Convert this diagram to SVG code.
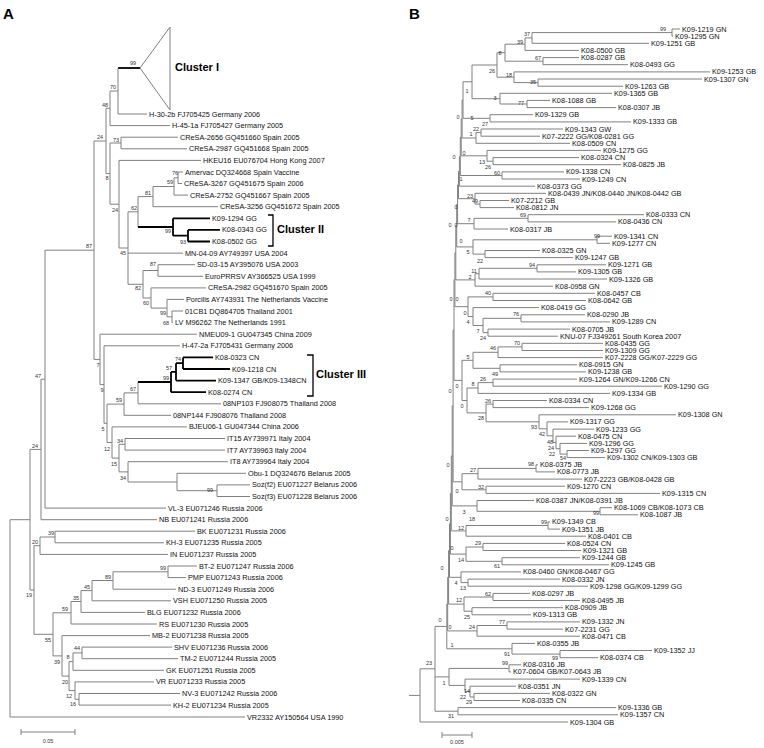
<svg xmlns="http://www.w3.org/2000/svg" width="764" height="748" viewBox="0 0 764 748">
<style>
.br{stroke:#808080;stroke-width:1;fill:none}
.tk{stroke:#000;stroke-width:1.8;fill:none}
.t{font-family:"Liberation Sans",Arial,sans-serif;font-size:7.3px;fill:#111}
.bs{font-family:"Liberation Sans",Arial,sans-serif;font-size:5.5px;fill:#333;text-anchor:middle}
.cl{font-family:"Liberation Sans",Arial,sans-serif;font-size:11px;font-weight:bold;fill:#000}
.ttl{font-family:"Liberation Sans",Arial,sans-serif;font-size:15px;font-weight:bold;fill:#000}
.sc{font-family:"Liberation Sans",Arial,sans-serif;font-size:5.5px;fill:#333;text-anchor:middle}
</style>
<rect width="764" height="748" fill="#fff"/>
<text class="ttl" x="3" y="19">A</text>
<text class="ttl" x="409" y="19">B</text>

<g id="connectors-A">
<path class="br" d="M140,68 L170,27 V110 Z" stroke="#555"/>
<path class="tk" d="M118,68 H140"/>
<path class="br" d="M118,68 V114 M118,114 H147
M110,91 V125.6 M110,91 H118 M110,125.6 H170
M121,137.2 V148.8 M121,137.2 H178 M121,148.8 H187
M106,108.3 V173.6 M106,108.3 H110 M106,173.6 H110
M110,143 V204.2 M110,143 H121 M110,204.2 H119
M119,160.4 V248 M119,160.4 H201 M119,248 H128
M128,211.8 V284.3 M128,211.8 H138 M128,253.1 H183 M128,284.3 H143
M138,196.6 V227 M138,196.6 H153
M153,186.5 V206.7 M153,186.5 H174 M153,206.7 H218
M174,177.8 V195.1 M174,177.8 H178 M174,195.1 H188
M178,172 V183.5 M178,172 H183 M178,183.5 H182
M143,270.5 V298 M143,270.5 H158 M143,298 H151
M158,264.7 V276.3 M158,264.7 H195 M158,276.3 H203
M151,287.9 V308.1 M151,287.9 H206 M151,308.1 H167
M167,299.4 V316.8 M167,299.4 H184 M167,316.8 H172
M172,311 V322.6 M172,311 H183 M172,322.6 H173
M94,141 V359.4 M94,141 H106 M94,359.4 H100
M100,334.2 V384.6 M100,334.2 H197 M100,384.6 H104
M104,345.8 V423.3 M104,345.8 H180 M104,423.3 H107
M107,404.1 V442.5 M107,404.1 H124 M107,442.5 H112
M124,392.9 V415.3 M124,392.9 H138 M124,415.3 H171
M138,382 V403.8 M138,403.8 H221
M112,426.9 V458.1 M112,426.9 H187 M112,458.1 H119
M119,444.3 V471.9 M119,444.3 H125 M119,471.9 H128
M125,438.5 V450.1 M125,438.5 H225 M125,450.1 H225
M128,461.7 V482 M128,461.7 H228 M128,482 H177
M177,473.3 V490.7 M177,473.3 H246 M177,490.7 H217
M217,484.9 V496.5 M217,484.9 H250 M217,496.5 H250
M45,250.2 V508.1 M45,250.2 H94 M45,508.1 H166
M41,379.2 V519.7 M41,379.2 H45 M41,519.7 H157
M30,449.4 V590 M30,449.4 H41 M30,590 H34
M34,545.7 V634.3 M34,545.7 H40 M34,634.3 H53
M40,537 V554.4 M40,537 H55 M40,554.4 H168
M55,531.2 V542.8 M55,531.2 H195 M55,542.8 H164
M53,612.8 V655.9 M53,612.8 H71 M53,655.9 H62
M71,601.5 V624 M71,601.5 H81 M71,624 H157
M81,590.6 V612.4 M81,590.6 H92 M81,612.4 H145
M92,580.5 V600.8 M92,580.5 H113 M92,600.8 H171
M113,571.8 V589.2 M113,571.8 H168 M113,589.2 H176
M168,566 V577.6 M168,566 H197 M168,577.6 H186
M62,635.6 V676.1 M62,635.6 H150 M62,676.1 H69
M69,661.6 V690.6 M69,661.6 H73 M69,690.6 H75
M73,652.9 V670.3 M73,652.9 H82 M73,670.3 H164
M82,647.1 V658.7 M82,647.1 H172 M82,658.7 H178
M75,681.9 V699.3 M75,681.9 H154 M75,699.3 H79
M79,693.5 V705.1 M79,693.5 H180 M79,705.1 H171
M10,519.7 V717 M10,519.7 H30 M10,717 H245"/>
<path class="tk" d="M138,227 H173 M173,218.3 V235.7 M173,218.3 H210 M173,235.7 H188 M188,229.9 V241.5 M188,229.9 H220 M188,241.5 H210"/>
<path class="tk" d="M138,382 H171 M171,371.9 V392.2 M171,371.9 H176 M171,392.2 H206 M176,363.2 V380.6 M176,363.2 H183 M176,380.6 H216 M183,357.4 V369 M183,357.4 H213 M183,369 H230"/>
<path d="M268,215 H273 V246 H268 M307,355 H313 V396 H307" stroke="#000" stroke-width="1.3" fill="none"/>
<path class="br" d="M21,732 H75 M21,729 V735 M75,729 V735" stroke="#333"/>
</g>

<g id="bootstrap-A">
<text class="bs" x="133" y="65">99</text><text class="bs" x="113" y="89">70</text><text class="bs" x="105" y="107">48</text>
<text class="bs" x="100" y="139">24</text><text class="bs" x="116" y="142">73</text><text class="bs" x="107" y="180">8</text>
<text class="bs" x="175" y="175">76</text><text class="bs" x="170" y="184">59</text><text class="bs" x="148" y="195">81</text>
<text class="bs" x="134" y="210">62</text><text class="bs" x="115" y="212">24</text><text class="bs" x="168" y="233">99</text>
<text class="bs" x="183" y="244">93</text><text class="bs" x="123" y="255">45</text><text class="bs" x="153" y="266">87</text>
<text class="bs" x="138" y="290">82</text><text class="bs" x="146" y="305">60</text><text class="bs" x="163" y="315">99</text>
<text class="bs" x="166" y="325">68</text><text class="bs" x="89" y="248">87</text><text class="bs" x="98" y="367">7</text>
<text class="bs" x="102" y="392">9</text><text class="bs" x="178" y="361">74</text><text class="bs" x="169" y="370">57</text>
<text class="bs" x="166" y="380">99</text><text class="bs" x="133" y="391">67</text><text class="bs" x="119" y="402">59</text>
<text class="bs" x="103" y="431">5</text><text class="bs" x="107" y="451">12</text><text class="bs" x="120" y="443">34</text>
<text class="bs" x="114" y="466">15</text><text class="bs" x="123" y="480">34</text><text class="bs" x="210" y="492">99</text>
<text class="bs" x="38" y="378">47</text><text class="bs" x="35" y="448">24</text><text class="bs" x="51" y="535">39</text>
<text class="bs" x="35" y="544">20</text><text class="bs" x="29" y="597">19</text><text class="bs" x="163" y="570">99</text>
<text class="bs" x="108" y="579">89</text><text class="bs" x="87" y="589">45</text><text class="bs" x="76" y="600">35</text>
<text class="bs" x="65" y="611">59</text><text class="bs" x="48" y="642">55</text><text class="bs" x="77" y="650">44</text>
<text class="bs" x="57" y="664">39</text><text class="bs" x="68" y="659">8</text><text class="bs" x="65" y="684">20</text>
<text class="bs" x="69" y="698">12</text><text class="bs" x="73" y="706">16</text>
<text class="sc" x="48" y="743">0.05</text>
</g>

<g id="clusters">
<text class="cl" x="175" y="71">Cluster I</text>
<text class="cl" x="277" y="233">Cluster II</text>
<text class="cl" x="316" y="378">Cluster III</text>
</g>

<g id="leaves-A" class="t">
<g id="a02"><text x="149" y="116.5">H-30-2b FJ705425 Germany 2006</text></g>
<g id="a03"><text x="172" y="128.1">H-45-1a FJ705427 Germany 2005</text></g>
<g id="a04"><text x="180" y="139.7">CReSA-2656 GQ451660 Spain 2005</text></g>
<g id="a05"><text x="189" y="151.3">CReSA-2987 GQ451668 Spain 2005</text></g>
<g id="a06"><text x="203" y="162.9">HKEU16 EU076704 Hong Kong 2007</text></g>
<g id="a07"><text x="185" y="174.5">Amervac DQ324668 Spain Vaccine</text></g>
<g id="a08"><text x="184" y="186">CReSA-3267 GQ451675 Spain 2006</text></g>
<g id="a09"><text x="190" y="197.6">CReSA-2752 GQ451667 Spain 2005</text></g>
<g id="a10"><text x="220" y="209.2">CReSA-3256 GQ451672 Spain 2005</text></g>
<g id="a11"><text x="212" y="220.8">K09-1294 GG</text></g>
<g id="a12"><text x="222" y="232.4">K08-0343 GG</text></g>
<g id="a13"><text x="212" y="244">K08-0502 GG</text></g>
<g id="a14"><text x="185" y="255.6">MN-04-09 AY749397 USA 2004</text></g>
<g id="a15"><text x="197" y="267.2">SD-03-15 AY395076 USA 2003</text></g>
<g id="a16"><text x="205" y="278.8">EuroPRRSV AY366525 USA 1999</text></g>
<g id="a17"><text x="208" y="290.4">CReSA-2982 GQ451670 Spain 2005</text></g>
<g id="a18"><text x="186" y="301.9">Porcilis AY743931 The Netherlands Vaccine</text></g>
<g id="a19"><text x="185" y="313.5">01CB1 DQ864705 Thailand 2001</text></g>
<g id="a20"><text x="175" y="325.1">LV M96262 The Netherlands 1991</text></g>
<g id="a21"><text x="199" y="336.7">NMEU09-1 GU047345 China 2009</text></g>
<g id="a22"><text x="182" y="348.3">H-47-2a FJ705431 Germany 2006</text></g>
<g id="a23"><text x="215" y="359.9">K08-0323 CN</text></g>
<g id="a24"><text x="232" y="371.5">K09-1218 CN</text></g>
<g id="a25"><text x="218" y="383.1">K09-1347 GB/K09-1348CN</text></g>
<g id="a26"><text x="208" y="394.7">K08-0274 CN</text></g>
<g id="a27"><text x="223" y="406.3">08NP103 FJ908075 Thailand 2008</text></g>
<g id="a28"><text x="173" y="417.8">08NP144 FJ908076 Thailand 2008</text></g>
<g id="a29"><text x="189" y="429.4">BJEU06-1 GU047344 China 2006</text></g>
<g id="a30"><text x="227" y="441">IT15 AY739971 Italy 2004</text></g>
<g id="a31"><text x="227" y="452.6">IT7 AY739963 Italy 2004</text></g>
<g id="a32"><text x="230" y="464.2">IT8 AY739964 Italy 2004</text></g>
<g id="a33"><text x="248" y="475.8">Obu-1 DQ324676 Belarus 2005</text></g>
<g id="a34"><text x="252" y="487.4">Soz(f2) EU071227 Belarus 2006</text></g>
<g id="a35"><text x="252" y="499">Soz(f3) EU071228 Belarus 2006</text></g>
<g id="a36"><text x="168" y="510.6">VL-3 EU071246 Russia 2006</text></g>
<g id="a37"><text x="159" y="522.2">NB EU071241 Russia 2006</text></g>
<g id="a38"><text x="197" y="533.7">BK EU071231 Russia 2006</text></g>
<g id="a39"><text x="166" y="545.3">KH-3 EU071235 Russia 2005</text></g>
<g id="a40"><text x="170" y="556.9">IN EU071237 Russia 2005</text></g>
<g id="a41"><text x="199" y="568.5">BT-2 EU071247 Russia 2006</text></g>
<g id="a42"><text x="188" y="580.1">PMP EU071243 Russia 2006</text></g>
<g id="a43"><text x="178" y="591.7">ND-3 EU071249 Russia 2006</text></g>
<g id="a44"><text x="173" y="603.3">VSH EU071250 Russia 2005</text></g>
<g id="a45"><text x="147" y="614.9">BLG EU071232 Russia 2006</text></g>
<g id="a46"><text x="159" y="626.5">RS EU071230 Russia 2005</text></g>
<g id="a47"><text x="152" y="638.1">MB-2 EU071238 Russia 2005</text></g>
<g id="a48"><text x="174" y="649.6">SHV EU071236 Russia 2006</text></g>
<g id="a49"><text x="180" y="661.2">TM-2 EU071244 Russia 2005</text></g>
<g id="a50"><text x="166" y="672.8">GK EU071251 Russia 2005</text></g>
<g id="a51"><text x="156" y="684.4">VR EU071233 Russia 2005</text></g>
<g id="a52"><text x="182" y="696">NV-3 EU071242 Russia 2006</text></g>
<g id="a53"><text x="173" y="707.6">KH-2 EU071234 Russia 2005</text></g>
<g id="a54"><text x="247" y="719.5">VR2332 AY150564 USA 1990</text></g>
</g>

<g id="connectors-B">
<path class="br" d="M672,29 V36.1 M672,29 H680 M672,36.1 H673
M532,32.6 V43.3 M532,32.6 H672 M532,43.3 H649
M525,37.9 V50.4 M525,37.9 H532 M525,50.4 H579
M543,57.6 V64.7 M543,57.6 H579 M543,64.7 H628
M505,44.2 V61.2 M505,44.2 H525 M505,61.2 H543
M538,79 V86.2 M538,79 H702 M538,86.2 H623
M514,71.9 V82.6 M514,71.9 H710 M514,82.6 H538
M497,52.7 V77.2 M497,52.7 H505 M497,77.2 H514
M527,100.4 V107.6 M527,100.4 H550 M527,107.6 H616
M500,93.3 V104 M500,93.3 H612 M500,104 H527
M472,65 V98.7 M472,65 H497 M472,98.7 H500
M490,114.7 V121.9 M490,114.7 H533 M490,121.9 H631
M481,129 V136.2 M481,129 H563 M481,136.2 H540
M476,132.6 V143.3 M476,132.6 H481 M476,143.3 H570
M493,157.6 V164.7 M493,157.6 H579 M493,164.7 H621
M487,150.4 V161.2 M487,150.4 H601 M487,161.2 H493
M502,171.9 V179 M502,171.9 H564 M502,179 H580
M480,200.5 V207.6 M480,200.5 H509 M480,207.6 H514
M475,193.3 V204.1 M475,193.3 H546 M475,204.1 H480
M528,214.7 V221.9 M528,214.7 H644 M528,221.9 H616
M474,218.3 V229 M474,218.3 H528 M474,229 H508
M597,236.2 V243.3 M597,236.2 H612 M597,243.3 H610
M485,250.5 V257.6 M485,250.5 H540 M485,257.6 H573
M473,239.8 V254.1 M473,239.8 H597 M473,254.1 H485
M537,264.8 V271.9 M537,264.8 H606 M537,271.9 H576
M479,268.3 V279 M479,268.3 H537 M479,279 H607
M475,273.7 V286.2 M475,273.7 H479 M475,286.2 H553
M493,293.3 V300.5 M493,293.3 H595 M493,300.5 H586
M521,314.8 V321.9 M521,314.8 H585 M521,321.9 H610
M488,329.1 V336.2 M488,329.1 H570 M488,336.2 H558
M483,318.3 V332.6 M483,318.3 H521 M483,332.6 H488
M473,307.6 V325.5 M473,307.6 H539 M473,325.5 H483
M468,296.9 V316.5 M468,296.9 H493 M468,316.5 H473
M522,343.3 V350.5 M522,343.3 H603 M522,350.5 H603
M498,346.9 V357.6 M498,346.9 H522 M498,357.6 H603
M500,364.8 V371.9 M500,364.8 H577 M500,371.9 H586
M473,352.3 V368.3 M473,352.3 H498 M473,368.3 H500
M493,379.1 V386.2 M493,379.1 H577 M493,386.2 H662
M478,382.6 V393.4 M478,382.6 H493 M478,393.4 H610
M493,400.5 V407.6 M493,400.5 H547 M493,407.6 H589
M539,414.8 V428.8 M539,414.8 H676 M539,428.8 H547
M547,421.9 V435.8 M547,421.9 H568 M547,435.8 H553
M553,429.1 V442.5 M553,429.1 H594 M553,442.5 H556
M556,436.2 V448.7 M556,436.2 H576 M556,448.7 H560
M560,443.4 V454.1 M560,443.4 H587 M560,454.1 H567
M567,450.5 V457.6 M567,450.5 H589 M567,457.6 H605
M486,404.1 V421.8 M486,404.1 H493 M486,421.8 H539
M467,388 V412.9 M467,388 H478 M467,412.9 H486
M462,360.3 V400.5 M462,360.3 H473 M462,400.5 H467
M536,464.8 V471.9 M536,464.8 H538 M536,471.9 H555
M478,468.4 V479.1 M478,468.4 H536 M478,479.1 H582
M486,486.2 V493.4 M486,486.2 H565 M486,493.4 H660
M462,473.7 V489.8 M462,473.7 H478 M462,489.8 H486
M600,507.7 V514.8 M600,507.7 H612 M600,514.8 H638
M477,500.5 V511.3 M477,500.5 H534 M477,511.3 H600
M548,521.9 V529.1 M548,521.9 H550 M548,529.1 H560
M466,525.5 V536.2 M466,525.5 H548 M466,536.2 H586
M483,543.4 V550.5 M483,543.4 H565 M483,550.5 H581
M502,557.7 V564.8 M502,557.7 H580 M502,564.8 H609
M466,547 V561.3 M466,547 H483 M466,561.3 H502
M468,579.1 V586.2 M468,579.1 H560 M468,586.2 H588
M461,571.9 V582.6 M461,571.9 H521 M461,582.6 H468
M493,593.4 V600.5 M493,593.4 H530 M493,600.5 H580
M472,607.7 V614.8 M472,607.7 H563 M472,614.8 H531
M464,597 V611.2 M464,597 H493 M464,611.2 H472
M507,621.9 V629.1 M507,621.9 H580 M507,629.1 H563
M477,625.5 V636.2 M477,625.5 H507 M477,636.2 H580
M560,650.5 V657.7 M560,650.5 H652 M560,657.7 H598
M512,643.4 V654.1 M512,643.4 H535 M512,654.1 H560
M509,664.8 V671.9 M509,664.8 H521 M509,671.9 H511
M474,693.4 V700.5 M474,693.4 H550 M474,700.5 H520
M470,686.2 V697 M470,686.2 H516 M470,697 H474
M465,679.1 V691.6 M465,679.1 H580 M465,691.6 H470
M449,668.4 V685.4 M449,668.4 H509 M449,685.4 H465
M458,707.6 V714.8 M458,707.6 H616 M458,714.8 H618
M463,81.8 V118.3 M463,81.8 H472 M463,118.3 H490
M462.1,100.05 V138 M462.1,100.05 H463 M462.1,138 H476
M461.2,119 V155.8 M461.2,119 H462.1 M461.2,155.8 H487
M460.3,137.4 V175.5 M460.3,137.4 H461.2 M460.3,175.5 H502
M459.4,156.5 V186.2 M459.4,156.5 H460.3 M459.4,186.2 H535
M458.5,171.3 V198.7 M458.5,171.3 H459.4 M458.5,198.7 H475
M457.6,185 V223.7 M457.6,185 H458.5 M457.6,223.7 H474
M456.7,204.4 V246.9 M456.7,204.4 H457.6 M456.7,246.9 H473
M455.8,225.6 V279.9 M455.8,225.6 H456.7 M455.8,279.9 H475
M454.9,252.8 V306.7 M454.9,252.8 H455.8 M454.9,306.7 H468
M454,279.7 V380.4 M454,279.7 H454.9 M454,380.4 H462
M453.1,330.1 V481.8 M453.1,330.1 H454 M453.1,481.8 H462
M452.2,405.9 V505.9 M452.2,405.9 H453.1 M452.2,505.9 H477
M451.3,455.9 V530.9 M451.3,455.9 H452.2 M451.3,530.9 H466
M450.4,493.4 V554.1 M450.4,493.4 H451.3 M450.4,554.1 H466
M449.5,523.8 V577.3 M449.5,523.8 H450.4 M449.5,577.3 H461
M448.6,550.5 V604.1 M448.6,550.5 H449.5 M448.6,604.1 H464
M447.7,577.3 V630.9 M447.7,577.3 H448.6 M447.7,630.9 H477
M446.8,604.1 V648.8 M446.8,604.1 H447.7 M446.8,648.8 H512
M435,626.4 V711.2 M435,626.4 H446.8 M435,676.9 H449 M435,711.2 H458
M420,668.8 V722 M420,668.8 H435 M420,722 H568 M409,695.4 H420"/>
<path class="br" d="M442,735 H472 M442,732 V738 M472,732 V738" stroke="#333"/>
</g>

<g id="bootstrap-B">
<text class="bs" x="663" y="31">99</text><text class="bs" x="527" y="36">37</text><text class="bs" x="520" y="44">39</text>
<text class="bs" x="500" y="55">8</text><text class="bs" x="538" y="60">67</text><text class="bs" x="492" y="73">26</text>
<text class="bs" x="509" y="77">18</text><text class="bs" x="533" y="84">35</text><text class="bs" x="467" y="93">1</text>
<text class="bs" x="495" y="100">3</text><text class="bs" x="521" y="105">77</text><text class="bs" x="458" y="119">0</text>
<text class="bs" x="472" y="120">5</text><text class="bs" x="485" y="126">27</text><text class="bs" x="476" y="131">22</text>
<text class="bs" x="471" y="136">1</text><text class="bs" x="464" y="155">0</text><text class="bs" x="454" y="159">0</text>
<text class="bs" x="482" y="164">13</text><text class="bs" x="488" y="169">26</text><text class="bs" x="497" y="175">60</text>
<text class="bs" x="461" y="181">1</text><text class="bs" x="470" y="198">23</text><text class="bs" x="475" y="203">49</text>
<text class="bs" x="456" y="209">0</text><text class="bs" x="523" y="217">69</text><text class="bs" x="469" y="222">7</text>
<text class="bs" x="450" y="227">0</text><text class="bs" x="456" y="227">0</text><text class="bs" x="461" y="243">0</text>
<text class="bs" x="597" y="238">99</text><text class="bs" x="468" y="254">5</text><text class="bs" x="480" y="263">22</text>
<text class="bs" x="532" y="267">94</text><text class="bs" x="474" y="273">11</text><text class="bs" x="470" y="279">2</text>
<text class="bs" x="451" y="301">0</text><text class="bs" x="457" y="301">0</text><text class="bs" x="488" y="295">40</text>
<text class="bs" x="465" y="315">0</text><text class="bs" x="516" y="316">76</text><text class="bs" x="468" y="324">4</text>
<text class="bs" x="478" y="333">7</text><text class="bs" x="483" y="340">24</text><text class="bs" x="517" y="345">70</text>
<text class="bs" x="493" y="350">46</text><text class="bs" x="468" y="359">5</text><text class="bs" x="495" y="376">49</text>
<text class="bs" x="483" y="381">26</text><text class="bs" x="473" y="386">8</text><text class="bs" x="457" y="388">0</text>
<text class="bs" x="450" y="393">0</text><text class="bs" x="488" y="403">26</text><text class="bs" x="462" y="408">0</text>
<text class="bs" x="481" y="420">28</text><text class="bs" x="534" y="429">93</text><text class="bs" x="542" y="436">42</text>
<text class="bs" x="550" y="443.5">48</text><text class="bs" x="551" y="449.5">24</text><text class="bs" x="552" y="455.5">22</text>
<text class="bs" x="563" y="460">54</text><text class="bs" x="531" y="466">98</text><text class="bs" x="448" y="467">0</text>
<text class="bs" x="473" y="472">27</text><text class="bs" x="481" y="489">32</text><text class="bs" x="457" y="493">0</text>
<text class="bs" x="464" y="514">3</text><text class="bs" x="472" y="521">18</text><text class="bs" x="544" y="524">99</text>
<text class="bs" x="447" y="521">0</text><text class="bs" x="461" y="530">12</text><text class="bs" x="596" y="514.5">99</text>
<text class="bs" x="452" y="550">0</text><text class="bs" x="478" y="545">29</text><text class="bs" x="461" y="562">14</text>
<text class="bs" x="497" y="568">61</text><text class="bs" x="442" y="570">0</text><text class="bs" x="456" y="585">4</text>
<text class="bs" x="463" y="590">13</text><text class="bs" x="488" y="596">62</text><text class="bs" x="459" y="602">12</text>
<text class="bs" x="467" y="619">25</text><text class="bs" x="440" y="622">0</text><text class="bs" x="450" y="629">0</text>
<text class="bs" x="472" y="629">24</text><text class="bs" x="502" y="624">77</text><text class="bs" x="452" y="647">1</text>
<text class="bs" x="507" y="656">91</text><text class="bs" x="555" y="659.5">99</text><text class="bs" x="505" y="665">99</text>
<text class="bs" x="429" y="665">23</text><text class="bs" x="444" y="685">1</text><text class="bs" x="467" y="693">14</text>
<text class="bs" x="463" y="699">22</text><text class="bs" x="469" y="704">29</text><text class="bs" x="451" y="718">31</text>
<text class="sc" x="457" y="744">0.005</text>
</g>

<g id="leaves-B" class="t">
<g id="b01"><text x="682" y="31.5">K09-1219 GN</text></g>
<g id="b02"><text x="675" y="38.6">K09-1295 GN</text></g>
<g id="b03"><text x="651" y="45.8">K09-1251 GB</text></g>
<g id="b04"><text x="581" y="52.9">K08-0500 GB</text></g>
<g id="b05"><text x="581" y="60.1">K08-0287 GB</text></g>
<g id="b06"><text x="630" y="67.2">K08-0493 GG</text></g>
<g id="b07"><text x="712" y="74.4">K09-1253 GB</text></g>
<g id="b08"><text x="704" y="81.5">K09-1307 GN</text></g>
<g id="b09"><text x="625" y="88.7">K09-1263 GB</text></g>
<g id="b10"><text x="614" y="95.8">K09-1365 GB</text></g>
<g id="b11"><text x="552" y="102.9">K08-1088 GB</text></g>
<g id="b12"><text x="618" y="110.1">K08-0307 JB</text></g>
<g id="b13"><text x="535" y="117.2">K09-1329 GB</text></g>
<g id="b14"><text x="633" y="124.4">K09-1333 GB</text></g>
<g id="b15"><text x="565" y="131.5">K09-1343 GW</text></g>
<g id="b16"><text x="542" y="138.7">K07-2222 GG/K08-0281 GG</text></g>
<g id="b17"><text x="572" y="145.8">K08-0509 CN</text></g>
<g id="b18"><text x="603" y="152.9">K09-1275 GG</text></g>
<g id="b19"><text x="581" y="160.1">K08-0324 CN</text></g>
<g id="b20"><text x="623" y="167.2">K08-0825 JB</text></g>
<g id="b21"><text x="566" y="174.4">K09-1338 CN</text></g>
<g id="b22"><text x="582" y="181.5">K09-1249 CN</text></g>
<g id="b23"><text x="537" y="188.7">K08-0373 GG</text></g>
<g id="b24"><text x="548" y="195.8">K08-0439 JN/K08-0440 JN/K08-0442 GB</text></g>
<g id="b25"><text x="511" y="203">K07-2212 GB</text></g>
<g id="b26"><text x="516" y="210.1">K08-0812 JN</text></g>
<g id="b27"><text x="646" y="217.2">K08-0333 CN</text></g>
<g id="b28"><text x="618" y="224.4">K08-0436 CN</text></g>
<g id="b29"><text x="510" y="231.5">K08-0317 JB</text></g>
<g id="b30"><text x="614" y="238.7">K09-1341 CN</text></g>
<g id="b31"><text x="612" y="245.8">K09-1277 CN</text></g>
<g id="b32"><text x="542" y="253">K08-0325 GN</text></g>
<g id="b33"><text x="575" y="260.1">K09-1247 GB</text></g>
<g id="b34"><text x="608" y="267.3">K09-1271 GB</text></g>
<g id="b35"><text x="578" y="274.4">K09-1305 GB</text></g>
<g id="b36"><text x="609" y="281.5">K09-1326 GB</text></g>
<g id="b37"><text x="555" y="288.7">K08-0958 GN</text></g>
<g id="b38"><text x="597" y="295.8">K08-0457 CB</text></g>
<g id="b39"><text x="588" y="303">K08-0642 GB</text></g>
<g id="b40"><text x="541" y="310.1">K08-0419 GG</text></g>
<g id="b41"><text x="587" y="317.3">K08-0290 JB</text></g>
<g id="b42"><text x="612" y="324.4">K09-1289 CN</text></g>
<g id="b43"><text x="572" y="331.6">K08-0705 JB</text></g>
<g id="b44"><text x="560" y="338.7">KNU-07 FJ349261 South Korea 2007</text></g>
<g id="b45"><text x="605" y="345.8">K08-0435 GG</text></g>
<g id="b46"><text x="605" y="353">K09-1309 GG</text></g>
<g id="b47"><text x="605" y="360.1">K07-2228 GG/K07-2229 GG</text></g>
<g id="b48"><text x="579" y="367.3">K08-0915 GN</text></g>
<g id="b49"><text x="588" y="374.4">K09-1238 GB</text></g>
<g id="b50"><text x="579" y="381.6">K09-1264 GN/K09-1266 CN</text></g>
<g id="b51"><text x="664" y="388.7">K09-1290 GG</text></g>
<g id="b52"><text x="612" y="395.9">K09-1334 GB</text></g>
<g id="b53"><text x="549" y="403">K08-0334 CN</text></g>
<g id="b54"><text x="591" y="410.1">K09-1268 GG</text></g>
<g id="b55"><text x="678" y="417.3">K09-1308 GN</text></g>
<g id="b56"><text x="570" y="424.4">K09-1317 GG</text></g>
<g id="b57"><text x="596" y="431.6">K09-1233 GG</text></g>
<g id="b58"><text x="578" y="438.7">K08-0475 CN</text></g>
<g id="b59"><text x="589" y="445.9">K09-1296 GG</text></g>
<g id="b60"><text x="591" y="453">K09-1297 GG</text></g>
<g id="b61"><text x="607" y="460.1">K09-1302 CN/K09-1303 GB</text></g>
<g id="b62"><text x="540" y="467.3">K08-0375 JB</text></g>
<g id="b63"><text x="557" y="474.4">K08-0773 JB</text></g>
<g id="b64"><text x="584" y="481.6">K07-2223 GB/K08-0428 GB</text></g>
<g id="b65"><text x="567" y="488.7">K09-1270 CN</text></g>
<g id="b66"><text x="662" y="495.9">K09-1315 CN</text></g>
<g id="b67"><text x="536" y="503">K08-0387 JN/K08-0391 JB</text></g>
<g id="b68"><text x="614" y="510.2">K08-1069 CB/K08-1073 CB</text></g>
<g id="b69"><text x="640" y="517.3">K08-1087 JB</text></g>
<g id="b70"><text x="552" y="524.4">K09-1349 CB</text></g>
<g id="b71"><text x="562" y="531.6">K09-1351 JB</text></g>
<g id="b72"><text x="588" y="538.7">K08-0401 CB</text></g>
<g id="b73"><text x="567" y="545.9">K08-0524 CN</text></g>
<g id="b74"><text x="583" y="553">K09-1321 GB</text></g>
<g id="b75"><text x="582" y="560.2">K09-1244 GB</text></g>
<g id="b76"><text x="611" y="567.3">K09-1245 GB</text></g>
<g id="b77"><text x="523" y="574.4">K08-0460 GN/K08-0467 GG</text></g>
<g id="b78"><text x="562" y="581.6">K08-0332 JN</text></g>
<g id="b79"><text x="590" y="588.7">K09-1298 GG/K09-1299 GG</text></g>
<g id="b80"><text x="532" y="595.9">K08-0297 JB</text></g>
<g id="b81"><text x="582" y="603">K08-0495 JB</text></g>
<g id="b82"><text x="565" y="610.2">K08-0909 JB</text></g>
<g id="b83"><text x="533" y="617.3">K09-1313 GB</text></g>
<g id="b84"><text x="582" y="624.4">K09-1332 JN</text></g>
<g id="b85"><text x="565" y="631.6">K07-2231 GG</text></g>
<g id="b86"><text x="582" y="638.7">K08-0471 CB</text></g>
<g id="b87"><text x="537" y="645.9">K08-0355 JB</text></g>
<g id="b88"><text x="654" y="653">K09-1352 JJ</text></g>
<g id="b89"><text x="600" y="660.2">K08-0374 CB</text></g>
<g id="b90"><text x="523" y="667.3">K08-0316 JB</text></g>
<g id="b91"><text x="513" y="674.4">K07-0604 GB/K07-0643 JB</text></g>
<g id="b92"><text x="582" y="681.6">K09-1339 CN</text></g>
<g id="b93"><text x="518" y="688.7">K08-0351 JN</text></g>
<g id="b94"><text x="552" y="695.9">K08-0322 GN</text></g>
<g id="b95"><text x="522" y="703">K08-0335 CN</text></g>
<g id="b96"><text x="618" y="710.1">K09-1336 GB</text></g>
<g id="b97"><text x="620" y="717.3">K09-1357 CN</text></g>
<g id="b98"><text x="570" y="724.5">K09-1304 GB</text></g>
</g>
</svg>
